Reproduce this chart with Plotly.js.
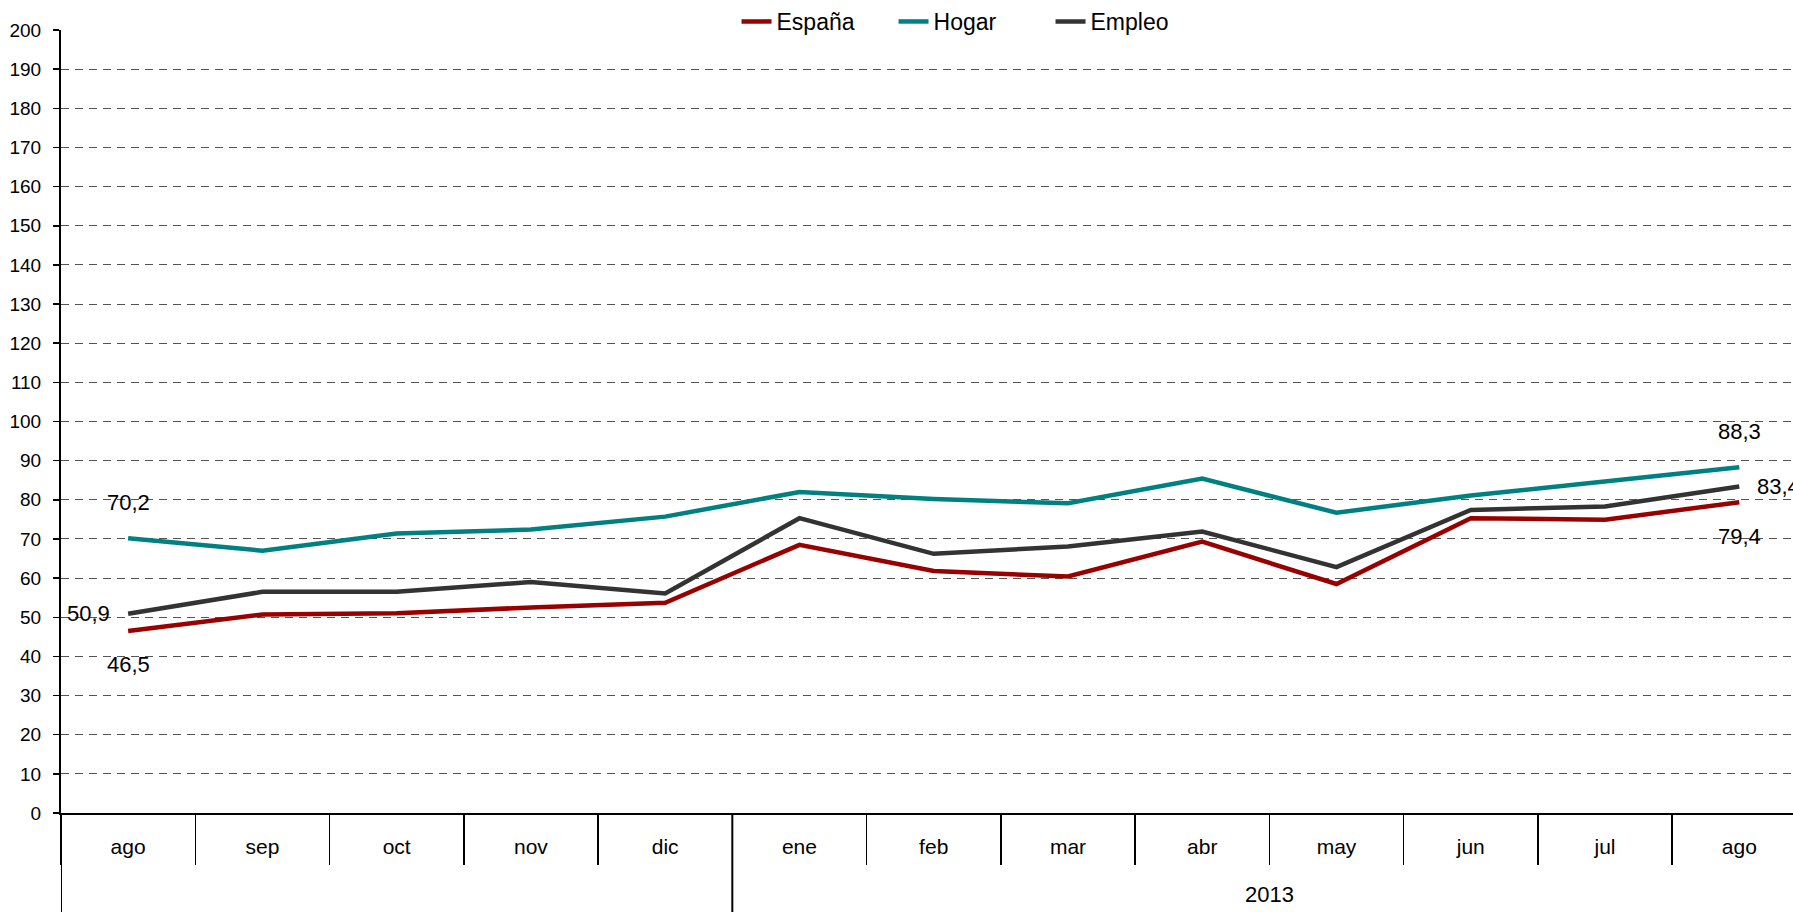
<!DOCTYPE html>
<html><head><meta charset="utf-8">
<script src="https://cdn.plot.ly/plotly-3.0.1.min.js"></script>
<style>html,body{margin:0;padding:0;background:#fff}#chart{width:1793px;height:912px}</style>
</head><body><div id="chart"></div>
<script>
// ---- data ----
const months = ['ago','sep','oct','nov','dic','ene','feb','mar','abr','may','jun','jul','ago'];
const years  = ['','','','','','2013','2013','2013','2013','2013','2013','2013','2013'];
const espana = [46.5,50.7,51.0,52.5,53.7,68.5,61.8,60.4,69.3,58.5,75.3,74.9,79.4];
const hogar  = [70.2,67.0,71.4,72.4,75.7,82.0,80.2,79.1,85.4,76.7,81.1,84.8,88.3];
const empleo = [50.9,56.5,56.5,59.0,56.1,75.3,66.2,68.1,71.9,62.8,77.4,78.3,83.4];
const seriesNames = ['España','Hogar','Empleo'];
const yTicks = [0,10,20,30,40,50,60,70,80,90,100,110,120,130,140,150,160,170,180,190,200];

// ---- styles ----
const FONT = '"Liberation Sans", Arial, sans-serif';
const colors = ['#990000','#008080','#333333'];
const labelPlacement = [
  {first:'below', last:'below'},
  {first:'above', last:'above'},
  {first:'left',  last:'right'}
];
const M = {l:61, r:0, t:30, b:99};
const plotH = 912 - M.t - M.b;

const xIdx = months.map((_, i) => i);
const seriesData = [espana, hogar, empleo];

const traces = seriesData.map((vals, s) => ({
  type:'scatter', mode:'lines', name: seriesNames[s],
  x: xIdx, y: vals,
  line:{color: colors[s], width:4.5},
  hoverinfo:'skip'
}));

function fmt(v){ return v.toFixed(1).replace('.', ','); }
function placeAnn(i, v, where){
  const a = {x:i, y:v, xref:'x', yref:'y', text: fmt(v), showarrow:false,
             font:{family:FONT, size:22, color:'#000'}};
  if (where === 'above'){ a.yshift = 36; a.xanchor='center'; }
  else if (where === 'below'){ a.yshift = -34; a.xanchor='center'; }
  else if (where === 'left'){ a.xshift = -16; a.xanchor='right'; }
  else { a.xshift = 16; a.xanchor='left'; }
  a.yanchor = 'middle';
  return a;
}
const annotations = [];
seriesData.forEach((vals, s) => {
  annotations.push(placeAnn(0, vals[0], labelPlacement[s].first));
  annotations.push(placeAnn(vals.length-1, vals[vals.length-1], labelPlacement[s].last));
});

// year groups
const bottomPaper = -M.b / plotH;
const shapes = [{type:'line', xref:'x', yref:'paper', x0:-0.5, x1:-0.5, y0:0, y1:bottomPaper,
                 line:{color:'#000', width:2}}];
let gStart = 0;
for (let i = 1; i <= years.length; i++){
  if (i === years.length || years[i] !== years[gStart]){
    if (years[gStart] !== ''){
      annotations.push({x:(gStart + i - 1)/2, y:-82/plotH, xref:'x', yref:'paper',
        text: years[gStart], showarrow:false, yanchor:'middle',
        font:{family:FONT, size:22, color:'#000'}});
    }
    if (i < years.length){
      shapes.push({type:'line', xref:'x', yref:'paper', x0:i-0.5, x1:i-0.5, y0:0, y1:bottomPaper,
                   line:{color:'#000', width:2}});
    }
    gStart = i;
  }
}
const boundaries = months.map((_, i) => i - 0.5).concat([months.length - 0.5]);

const layout = {
  width:1793, height:912,
  margin:M,
  paper_bgcolor:'#fff', plot_bgcolor:'#fff',
  font:{family:FONT, color:'#000'},
  showlegend:true,
  legend:{orientation:'h', x:0.526, xanchor:'center', y:1 + 9/plotH, yanchor:'middle',
          bgcolor:'#fff', font:{family:FONT, size:23, color:'#000'},
          itemwidth:30, tracegroupgap:0, entrywidth:112, entrywidthmode:'pixels'},
  xaxis:{
    range:[-0.5, 12.4], tickmode:'array', tickvals:xIdx, ticktext:months,
    ticks:'', showgrid:false, zeroline:false,
    showline:true, linecolor:'#000', linewidth:2,
    tickfont:{family:FONT, size:21, color:'#000'},
    ticklabelstandoff:14,
    minor:{tickmode:'array', tickvals:boundaries, ticks:'outside', ticklen:50,
           tickwidth:1.5, tickcolor:'#000', showgrid:false}
  },
  yaxis:{
    range:[0,200], tickmode:'array', tickvals:yTicks,
    ticks:'outside', ticklen:6, tickwidth:1.5, tickcolor:'#000',
    showline:true, linecolor:'#000', linewidth:2,
    showgrid:true, gridcolor:'#555', gridwidth:1, griddash:'8px,6px',
    zeroline:false,
    tickfont:{family:FONT, size:19, color:'#000'},
    ticklabelstandoff:8
  },
  annotations: annotations,
  shapes: shapes,
  hovermode:false
};
Plotly.newPlot('chart', traces, layout, {displayModeBar:false, staticPlot:true});
</script></body></html>
